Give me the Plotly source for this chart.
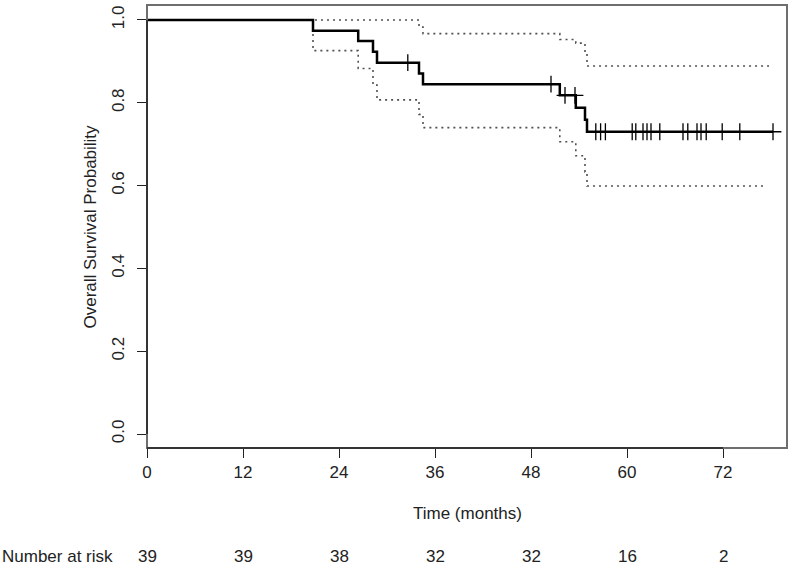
import numpy as np
import plotly.graph_objects as go

# ---- data ----
step_times = [0, 20.75, 26.4, 28.25, 28.75, 34.0, 34.5, 51.6, 53.6, 54.75, 55.0, 78.25]
survival = [1.0, 0.974, 0.949, 0.923, 0.897, 0.871, 0.845, 0.818, 0.788, 0.759, 0.730, 0.730]

upper_times = [0, 34.0, 34.5, 51.6, 53.6, 54.75, 55.0, 78.0]
upper_ci = [1.0, 0.983, 0.967, 0.953, 0.944, 0.922, 0.889, 0.889]

lower_times = [0, 20.75, 26.4, 28.25, 28.75, 34.0, 34.5, 51.6, 53.6, 54.75, 55.0, 77.5]
lower_ci = [1.0, 0.926, 0.883, 0.843, 0.807, 0.772, 0.740, 0.706, 0.672, 0.633, 0.599, 0.599]

censor_times = [32.6, 50.5, 52.25, 53.5, 56.1, 56.7, 57.3, 60.65, 61.1, 62.0, 62.5, 63.0,
                64.1, 67.0, 67.6, 68.75, 69.25, 69.9, 71.9, 74.1, 78.25]

x_ticks = [0, 12, 24, 36, 48, 60, 72]
y_ticks = [0.0, 0.2, 0.4, 0.6, 0.8, 1.0]
y_tick_labels = ["0.0", "0.2", "0.4", "0.6", "0.8", "1.0"]
at_risk = [39, 39, 38, 32, 32, 16, 2]

# censor mark heights from the step curve
idx = np.searchsorted(step_times, censor_times, side="right") - 1
censor_surv = [survival[i] for i in idx]

FONT = "Liberation Sans, Arial, sans-serif"
TXT = "#222222"

fig = go.Figure()
band_style = dict(color="#505050", width=1.6, dash="2px,4px", shape="hv")
fig.add_trace(go.Scatter(x=upper_times, y=upper_ci, mode="lines", line=band_style,
                         hoverinfo="skip", showlegend=False))
fig.add_trace(go.Scatter(x=lower_times, y=lower_ci, mode="lines", line=band_style,
                         hoverinfo="skip", showlegend=False))
fig.add_trace(go.Scatter(x=step_times, y=survival, mode="lines",
                         line=dict(color="black", width=2.5, shape="hv"), showlegend=False))
fig.add_trace(go.Scatter(x=censor_times, y=censor_surv, mode="markers",
                         marker=dict(symbol="cross-thin", size=12, color="black",
                                     line=dict(color="black", width=1.3)),
                         showlegend=False))

fig.update_layout(
    width=800, height=566,
    margin=dict(l=147, r=13, t=5, b=118),
    paper_bgcolor="white", plot_bgcolor="white",
    font=dict(family=FONT, size=17, color=TXT),
    showlegend=False,
)
fig.update_xaxes(range=[0, 80], tickvals=x_ticks, ticktext=[str(t) for t in x_ticks],
                 ticks="outside", ticklen=9, tickwidth=1.2, tickcolor="#222",
                 showgrid=False, zeroline=False, showline=False,
                 tickfont=dict(family=FONT, size=17, color=TXT))
fig.update_yaxes(range=[-0.0338, 1.0362], tickvals=y_ticks, ticktext=y_tick_labels,
                 tickangle=-90, ticks="outside", ticklen=9, tickwidth=1.2, tickcolor="#222",
                 showgrid=False, zeroline=False, showline=False, ticklabelstandoff=6,
                 tickfont=dict(family=FONT, size=17, color=TXT))

# plot frame
fig.add_shape(type="rect", xref="paper", yref="paper", x0=0, x1=1, y0=0, y1=1,
              line=dict(color="#6e6e6e", width=2), layer="above")
# axis segments (R style: only across tick span)
fig.add_shape(type="line", xref="x", yref="paper", x0=x_ticks[0], x1=x_ticks[-1], y0=0, y1=0,
              line=dict(color="#222", width=1.5))
fig.add_shape(type="line", xref="paper", yref="y", x0=0, x1=0, y0=y_ticks[0], y1=y_ticks[-1],
              line=dict(color="#222", width=1.5))

# titles
fig.add_annotation(text="Time (months)", xref="paper", yref="paper", x=0.5, y=-0.147,
                   showarrow=False, xanchor="center", yanchor="middle",
                   font=dict(family=FONT, size=17, color=TXT))
fig.add_annotation(text="Overall Survival Probability", xref="paper", yref="paper",
                   x=-0.089, y=0.5, textangle=-90, showarrow=False,
                   xanchor="center", yanchor="middle",
                   font=dict(family=FONT, size=17, color=TXT))

# number at risk row
fig.add_annotation(text="Number at risk", xref="paper", yref="paper", x=-147/640, y=-0.244,
                   showarrow=False, xanchor="left", yanchor="middle",
                   font=dict(family=FONT, size=17, color=TXT))
for t, n in zip(x_ticks, at_risk):
    fig.add_annotation(text=str(n), xref="x", yref="paper", x=t, y=-0.244,
                       showarrow=False, xanchor="center", yanchor="middle",
                       font=dict(family=FONT, size=17, color=TXT))

fig.write_html("out.html", config={"displayModeBar": False},
               post_script="document.body.style.margin='0';document.body.style.overflow='hidden';")
